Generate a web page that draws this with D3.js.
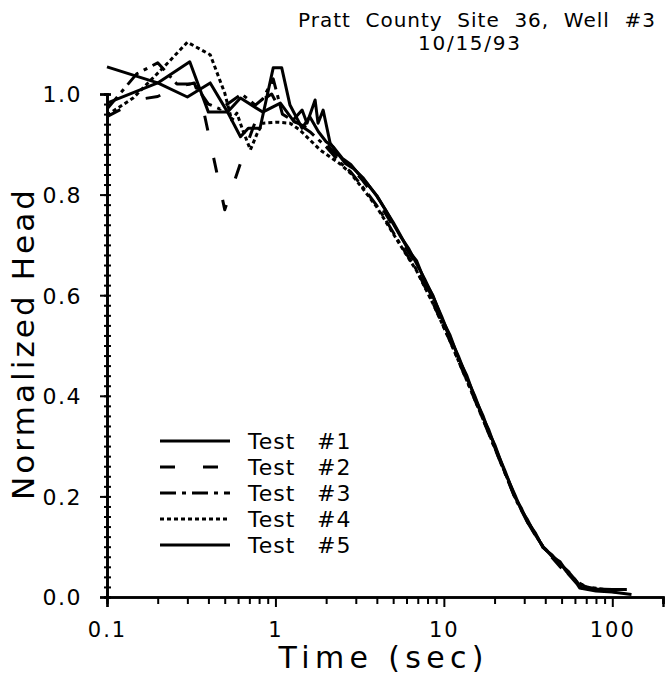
<!DOCTYPE html>
<html>
<head>
<meta charset="utf-8">
<script src="https://cdn.jsdelivr.net/npm/d3@7/dist/d3.min.js"></script>
<style>
  html, body { margin: 0; padding: 0; background: #fff; }
  svg { display: block; }
  text { font-family: "DejaVu Sans", "Liberation Sans", sans-serif; fill: #000; white-space: pre; }
</style>
</head>
<body>
<svg id="chart" width="667" height="675"></svg>
<script>
// Slug-test response, normalized head vs. elapsed time, five repeat tests.
const titleLines = ["Pratt  County  Site  36,  Well  #3", "10/15/93"];
const seriesNames = ["Test  #1", "Test  #2", "Test  #3", "Test  #4", "Test  #5"];
const xMajorTicks = [0.1, 1, 10, 100];
const xTickLabels = ["0.1", "1", "10", "100"];
const yMajorTicks = [0, 0.2, 0.4, 0.6, 0.8, 1.0];
const yTickLabels = ["0.0", "0.2", "0.4", "0.6", "0.8", "1.0"];

// [time (sec), normalized head]
const test1 = [[0.1,1.054],[0.2,1.022],[0.3,0.994],[0.41,1.022],[0.52,0.964],[0.62,0.992],[0.84,0.964],[1.07,0.982],[1.27,0.948],[1.44,0.968],[1.54,0.942],[1.72,0.988],[1.79,0.942],[1.92,0.968],[2.11,0.903],[2.3,0.885],[2.6,0.862],[2.9,0.852],[3.3,0.834],[3.7,0.812],[4.0,0.797],[4.5,0.77],[5.0,0.742],[5.5,0.718],[6.2,0.692],[6.9,0.662],[7.7,0.632],[8.6,0.598],[9.7,0.558],[10.9,0.515],[12.2,0.479],[13.7,0.435],[15.3,0.399],[17.1,0.356],[18.5,0.332],[20.1,0.298],[23,0.252],[26.5,0.198],[28.8,0.177],[31.2,0.151],[35,0.127],[38.8,0.098],[44,0.083],[49,0.066],[55,0.05],[61.8,0.03],[66,0.018],[80,0.016],[100,0.015],[122,0.015]];
const test2 = [[0.1,0.955],[0.13,0.975],[0.16,0.99],[0.2,0.995],[0.26,1.014],[0.33,1.022],[0.37,0.975],[0.5,0.77],[0.66,0.889],[0.85,0.99],[0.95,1.0],[1.1,0.96],[1.3,0.945],[1.6,0.93],[2.0,0.90],[2.4,0.873],[2.8,0.855],[3.3,0.828],[4.0,0.79],[4.7,0.752],[5.5,0.712],[6.9,0.66],[8.6,0.593],[10.9,0.514],[13.7,0.434],[17.1,0.355],[20.1,0.297],[26.5,0.197],[31.2,0.15],[38.8,0.097],[44,0.078],[49,0.06],[55,0.045],[60,0.032],[66,0.02],[80,0.016],[100,0.014]];
const test3 = [[0.1,0.97],[0.15,1.04],[0.2,1.062],[0.26,1.02],[0.33,1.02],[0.4,0.98],[0.47,0.97],[0.63,1.0],[0.76,0.978],[0.84,0.99],[0.97,1.03],[1.1,0.96],[1.3,0.945],[1.6,0.925],[2.0,0.895],[2.4,0.865],[2.8,0.845],[3.3,0.815],[4.0,0.778],[4.7,0.74],[5.5,0.702],[6.9,0.65],[8.6,0.585],[10.9,0.508],[13.7,0.43],[17.1,0.352],[20.1,0.295],[26.5,0.196],[31.2,0.15],[38.8,0.1],[49,0.065],[55,0.05],[61.8,0.03],[70,0.02],[90,0.012],[105,0.01]];
const test4 = [[0.1,0.958],[0.143,0.992],[0.23,1.062],[0.3,1.103],[0.41,1.078],[0.5,1.002],[0.55,0.948],[0.59,0.962],[0.64,0.928],[0.71,0.889],[0.78,0.922],[0.84,0.942],[1.02,0.944],[1.22,0.942],[1.4,0.928],[1.84,0.889],[2.4,0.862],[2.8,0.842],[3.3,0.812],[4.0,0.775],[4.7,0.737],[5.5,0.70],[6.9,0.648],[8.6,0.584],[10.9,0.508],[13.7,0.43],[17.1,0.353],[20.1,0.296],[26.5,0.198],[31.2,0.152],[38.8,0.1],[49,0.066],[55,0.046],[61.8,0.03],[70,0.02],[90,0.015]];
const test5 = [[0.1,0.982],[0.2,1.022],[0.31,1.064],[0.4,0.964],[0.52,0.964],[0.62,0.915],[0.69,0.932],[0.81,0.932],[0.97,1.052],[1.09,1.052],[1.22,0.978],[1.44,0.932],[1.6,0.955],[1.8,0.925],[2.0,0.905],[2.2,0.895],[2.5,0.872],[2.8,0.86],[3.1,0.842],[3.5,0.822],[4.0,0.798],[4.4,0.775],[5.0,0.745],[5.5,0.72],[6.2,0.688],[6.9,0.668],[7.7,0.628],[8.6,0.6],[9.7,0.554],[10.9,0.52],[12.2,0.475],[13.7,0.44],[15.3,0.395],[17.1,0.36],[18.5,0.328],[20.1,0.302],[23,0.248],[26.5,0.202],[28.8,0.173],[31.2,0.155],[35,0.123],[38.8,0.1],[44,0.08],[49,0.07],[55,0.045],[61.8,0.026],[64,0.018],[80,0.012],[100,0.01],[130,0.005]];

const seriesData = [test1, test2, test3, test4, test5];
const dashes = [null, "15,28", "16,6,4,6", "4,3", null];

const svg = d3.select("#chart");
const x = d3.scaleLog().domain([0.1, 200]).range([107, 663]);
const y = d3.scaleLinear().domain([0, 1]).range([597, 94]);

// minor tick positions: 2..9 within each decade, and every 0.02 in head
const xMinor = [];
[0.1, 1, 10, 100].forEach(d => { for (let k = 2; k <= 9; k++) { const v = d * k; if (v <= 200) xMinor.push(v); } });
xMinor.push(200);
const yMinor = d3.range(0, 51).map(i => +(i * 0.02).toFixed(2));

// axes
const gx = svg.append("g").attr("transform", "translate(0,597)");
gx.append("g").call(d3.axisBottom(x).tickValues(xMinor).tickSize(7).tickFormat(""));
gx.append("g").call(d3.axisBottom(x).tickValues(xMajorTicks).tickSize(10)
  .tickFormat((d, i) => xTickLabels[i]));
gx.selectAll("text").attr("y", 40).attr("dy", 0).style("font-size", "21px").attr("letter-spacing", "2");

const gy = svg.append("g").attr("transform", "translate(107,0)");
gy.append("g").call(d3.axisRight(y).tickValues(yMinor).tickSize(4).tickFormat(""));
gy.append("g").call(d3.axisLeft(y).tickValues(yMinor).tickSize(3).tickFormat(""));
gy.append("g").call(d3.axisLeft(y).tickValues(yMajorTicks).tickSize(7).tickPadding(18)
  .tickFormat((d, i) => yTickLabels[i]));
gy.selectAll("text").style("font-size", "22px").attr("letter-spacing", "1.5").attr("dy", "0.36em");

svg.selectAll(".domain").attr("stroke", "#000").attr("stroke-width", 2.4);
svg.selectAll(".tick line").attr("stroke", "#000").attr("stroke-width", 2);

// curves
const line = d3.line().x(d => x(d[0])).y(d => y(d[1]));
svg.append("g").selectAll("path").data(seriesData).join("path")
  .attr("d", line)
  .attr("fill", "none")
  .attr("stroke", "#000")
  .attr("stroke-width", 3)
  .attr("stroke-linejoin", "round")
  .attr("stroke-dasharray", (d, i) => dashes[i]);

// legend
const legend = svg.append("g");
seriesNames.forEach((name, i) => {
  const ly = 441 + i * 26;
  legend.append("line").attr("x1", 160).attr("x2", 230).attr("y1", ly).attr("y2", ly)
    .attr("stroke", "#000").attr("stroke-width", 3).attr("stroke-dasharray", dashes[i]);
  const parts = name.split(/\s+/);
  legend.append("text").attr("x", 248).attr("y", ly + 8).style("font-size", "22px")
    .attr("letter-spacing", "1").text(parts[0]);
  legend.append("text").attr("x", 317).attr("y", ly + 8).style("font-size", "22px")
    .attr("letter-spacing", "1").text(parts[1]);
});

// titles
svg.append("text").attr("x", 298).attr("y", 27).style("font-size", "20px")
  .attr("textLength", 357).attr("lengthAdjust", "spacing").text(titleLines[0]);
svg.append("text").attr("x", 418).attr("y", 50).style("font-size", "20px")
  .attr("textLength", 102).attr("lengthAdjust", "spacing").text(titleLines[1]);

// axis titles
svg.append("text").attr("x", 381).attr("y", 668).attr("text-anchor", "middle")
  .style("font-size", "30px").attr("textLength", 205).attr("lengthAdjust", "spacing")
  .text("Time (sec)");
svg.append("text").attr("transform", "translate(34,345) rotate(-90)").attr("text-anchor", "middle")
  .style("font-size", "31px").attr("textLength", 310).attr("lengthAdjust", "spacing")
  .text("Normalized Head");
</script>
</body>
</html>
